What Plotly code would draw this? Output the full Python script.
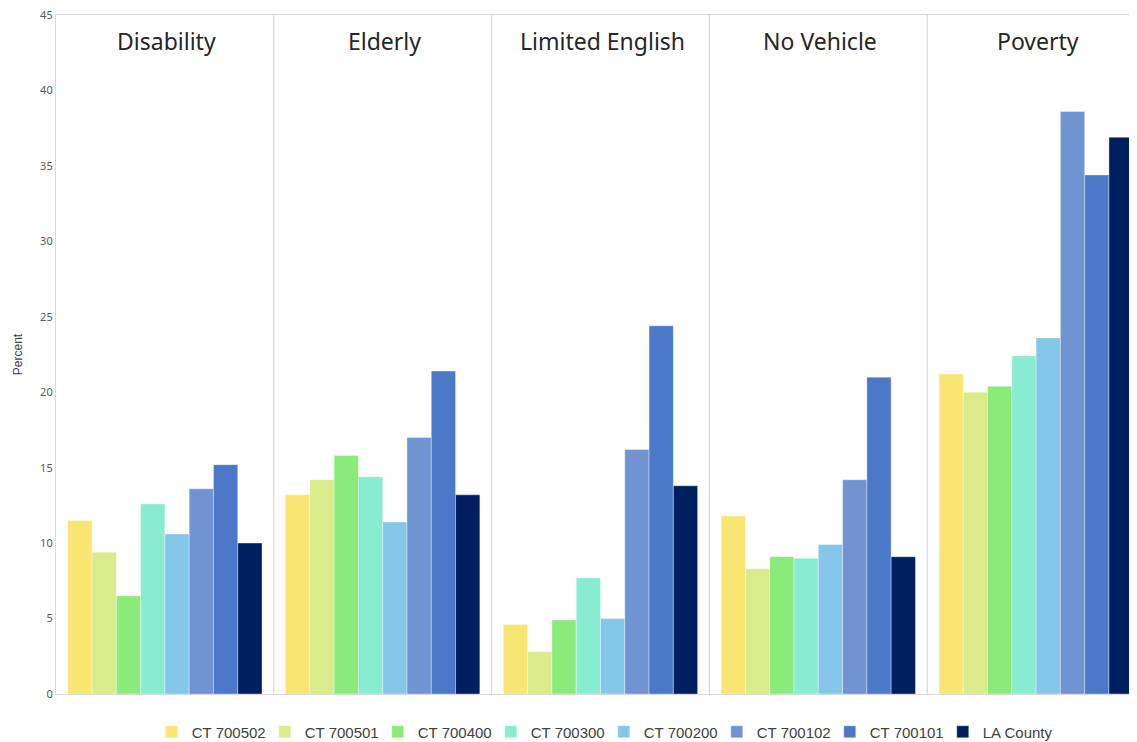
import plotly.graph_objects as go

categories = ["Disability", "Elderly", "Limited English", "No Vehicle", "Poverty"]
series_names = ["CT 700502", "CT 700501", "CT 700400", "CT 700300",
                "CT 700200", "CT 700102", "CT 700101", "LA County"]
ct_700502 = [11.5, 13.2, 4.6, 11.8, 21.2]
ct_700501 = [9.4, 14.2, 2.8, 8.3, 20.0]
ct_700400 = [6.5, 15.8, 4.9, 9.1, 20.4]
ct_700300 = [12.6, 14.4, 7.7, 9.0, 22.4]
ct_700200 = [10.6, 11.4, 5.0, 9.9, 23.6]
ct_700102 = [13.6, 17.0, 16.2, 14.2, 38.6]
ct_700101 = [15.2, 21.4, 24.4, 21.0, 34.4]
la_county = [10.0, 13.2, 13.8, 9.1, 36.9]
y_ticks = [0, 5, 10, 15, 20, 25, 30, 35, 40, 45]

series_values = [ct_700502, ct_700501, ct_700400, ct_700300,
                 ct_700200, ct_700102, ct_700101, la_county]
colors = ["#F9E572", "#D9EB8A", "#8BEB7A", "#88EDD0",
          "#85C7E8", "#7094D2", "#4C79C7", "#001F5F"]

fig = go.Figure()
for name, vals, col in zip(series_names, series_values, colors):
    fig.add_trace(go.Bar(
        name=name, x=categories, y=vals,
        marker=dict(color=col, line=dict(color="rgba(255,255,255,0.6)", width=0.6)),
    ))

shapes = []
for i in range(len(categories) - 1):
    shapes.append(dict(type="line", xref="x", yref="paper",
                       x0=i + 0.5, x1=i + 0.5, y0=0, y1=1,
                       line=dict(color="#D9D9D9", width=1.2)))

annotations = []
for c in categories:
    annotations.append(dict(x=c, y=0.961, xref="x", yref="paper", text=c,
                            showarrow=False, yanchor="middle", xshift=2,
                            font=dict(family="Noto Sans", size=23, color="#262626")))

fig.update_layout(
    width=1150, height=742,
    margin=dict(l=48, r=13, t=7, b=56, autoexpand=False),
    paper_bgcolor="white", plot_bgcolor="white",
    barmode="group", bargap=0.108, bargroupgap=0,
    shapes=shapes, annotations=annotations,
    font=dict(family="Liberation Sans", color="#595959"),
    xaxis=dict(showticklabels=False, ticks="", showgrid=False,
               showline=True, mirror=True, linecolor="#D9D9D9", linewidth=1.2,
               range=[-0.5, len(categories) - 0.5], automargin=False),
    yaxis=dict(range=[0, 45], tickvals=y_ticks, showgrid=False, zeroline=False,
               showline=True, mirror=True, linecolor="#D9D9D9", linewidth=1.2,
               ticks="", ticklen=0, automargin=False, ticklabeloverflow="allow",
               tickfont=dict(family="Noto Sans", size=11, color="#595959"),
               title=dict(text="Percent", standoff=14,
                          font=dict(family="Liberation Sans", size=12, color="#404040"))),
    legend=dict(orientation="h", x=0.503, xanchor="center", y=-0.056, yanchor="middle",
                font=dict(family="Liberation Sans", size=15, color="#404040"),
                itemwidth=30, entrywidth=68, entrywidthmode="pixels",
                traceorder="normal"),
)

fig.write_html("out.html")
